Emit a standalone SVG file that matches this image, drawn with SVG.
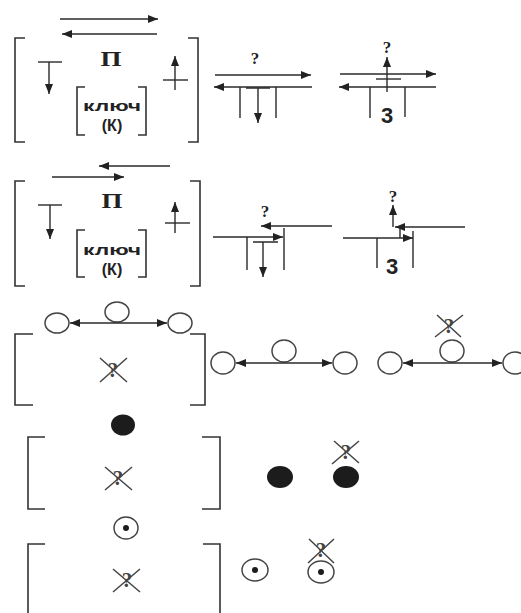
<svg xmlns="http://www.w3.org/2000/svg" width="521" height="613" viewBox="0 0 521 613">
<defs>
<marker id="ah" markerUnits="userSpaceOnUse" markerWidth="10" markerHeight="8" refX="10" refY="4" orient="auto-start-reverse" viewBox="0 0 10 8">
<path d="M0,0 L10,4 L0,8 z" fill="#222"/>
</marker>
</defs>
<style>
.ln{stroke:#2a2a2a;stroke-width:1.4;fill:none}
.ar{stroke:#2a2a2a;stroke-width:1.4;fill:none;marker-end:url(#ah)}
.da{stroke:#2a2a2a;stroke-width:1.4;fill:none;marker-start:url(#ah);marker-end:url(#ah)}
.br{stroke:#333;stroke-width:1.6;fill:none}
.pi{font-family:"Liberation Serif",serif;font-weight:bold;font-size:20px;fill:#222;text-anchor:middle}
.q{font-family:"Liberation Serif",serif;font-weight:bold;font-size:17px;fill:#222;text-anchor:middle}
.kl{font-family:"Liberation Sans",Arial,sans-serif;font-weight:bold;font-size:15px;fill:#222;text-anchor:middle}
.kk{font-family:"Liberation Sans",Arial,sans-serif;font-weight:bold;font-size:16px;fill:#222;text-anchor:middle}
.th{font-family:"Liberation Sans",Arial,sans-serif;font-weight:bold;font-size:22px;fill:#222;text-anchor:middle}
.xq{font-family:"Liberation Serif",serif;font-weight:bold;font-size:21px;fill:#444;text-anchor:middle}
.xl{stroke:#444;stroke-width:1.5;fill:none}
.oc{stroke:#444;stroke-width:1.5;fill:#fff}
.fc{fill:#1c1c1c}
</style>
<rect width="521" height="613" fill="#fff"/>

<!-- Row 1 -->
<g id="block1">
<path class="br" d="M25,38 H15 V142 H25"/>
<path class="br" d="M188,38 H198 V142 H188"/>
<text class="pi" x="111" y="66" textLength="21" lengthAdjust="spacingAndGlyphs">П</text>
<path class="ln" d="M38,62 H62"/>
<path class="ar" d="M49,62 V94"/>
<path class="ar" d="M175,90 V56"/>
<path class="ln" d="M163,80 H188"/>
<g id="key1">
<path class="br" d="M85,87 H77 V135 H85"/>
<path class="br" d="M138,87 H146 V135 H138"/>
<text class="kl" x="112" y="111" textLength="58" lengthAdjust="spacingAndGlyphs">ключ</text>
<text class="kk" x="112" y="131">(К)</text>
</g>
</g>
<g id="r1a">
<text class="q" x="255" y="64">?</text>
<path class="ln" d="M240,87 V118 M276,87 V118 M246,88 H270"/>
<path class="ar" d="M258,88 V123"/>
</g>
<g id="r1b">
<text class="q" x="387" y="53">?</text>
<path class="ar" d="M387,92 V57"/>
<path class="ln" d="M376,79 H401"/>
<path class="ln" d="M370,87 V118 M405,87 V117"/>
<text class="th" x="387" y="123">3</text>
</g>

<!-- Row 2 -->
<g id="block2">
<path class="br" d="M25,181 H15 V286 H25"/>
<path class="br" d="M190,181 H200 V286 H190"/>
<text class="pi" x="112" y="208" textLength="21" lengthAdjust="spacingAndGlyphs">П</text>
<path class="ln" d="M38,205 H62"/>
<path class="ar" d="M50,205 V239"/>
<path class="ar" d="M175,233 V202"/>
<path class="ln" d="M165,223 H190"/>
<g id="key2">
<path class="br" d="M85,230 H77 V277 H85"/>
<path class="br" d="M138,230 H146 V277 H138"/>
<text class="kl" x="112" y="255" textLength="58" lengthAdjust="spacingAndGlyphs">ключ</text>
<text class="kk" x="112" y="275">(К)</text>
</g>
</g>
<g id="r2a">
<text class="q" x="265" y="217">?</text>
<path class="ln" d="M247,237 V270 M284,228 V270 M253,242 H278"/>
<path class="ar" d="M263,242 V277"/>
</g>
<g id="r2b">
<text class="q" x="393" y="202">?</text>
<path class="ar" d="M393,227 V205"/>
<path class="ln" d="M377,238 V268 M413,231 V268 M400,228 V238"/>
<text class="th" x="392" y="274">3</text>
</g>

<!-- Row 3 -->
<g id="block3">
<path class="br" d="M33,334 H15 V405 H33"/>
<path class="br" d="M190,334 H205 V405 H190"/>
<ellipse class="oc" cx="57" cy="323" rx="12" ry="10"/>
<ellipse class="oc" cx="117" cy="312" rx="12" ry="10"/>
<ellipse class="oc" cx="180" cy="323" rx="12" ry="10"/>
<g id="xq1"><text class="xq" x="113" y="377">?</text><path class="xl" d="M100,358 L127,382 M100,382 L127,358"/></g>
</g>
<g id="r3a">
<ellipse class="oc" cx="223" cy="363" rx="12" ry="11"/>
<ellipse class="oc" cx="284" cy="351" rx="12" ry="11"/>
<ellipse class="oc" cx="345" cy="363" rx="12" ry="11"/>
</g>
<g id="r3b">
<ellipse class="oc" cx="390" cy="363" rx="12" ry="11"/>
<ellipse class="oc" cx="452" cy="351" rx="12" ry="11"/>
<ellipse class="oc" cx="515" cy="363" rx="12" ry="11"/>
<g id="xq2"><text class="xq" x="449" y="333">?</text><path class="xl" d="M435,337 L463,315 M437,315 L461,337"/></g>
</g>

<!-- Row 4 -->
<g id="block4">
<ellipse class="fc" cx="123" cy="425" rx="12" ry="10.5"/>
<path class="br" d="M45,437 H28 V509 H45"/>
<path class="br" d="M202,437 H220 V509 H202"/>
<g id="xq3"><text class="xq" x="118" y="485">?</text><path class="xl" d="M105,467 L132,490 M105,490 L132,467"/></g>
</g>
<g id="r4">
<ellipse class="fc" cx="280" cy="477" rx="13" ry="11"/>
<ellipse class="fc" cx="346" cy="477" rx="13" ry="11"/>
<g id="xq4"><text class="xq" x="346" y="459">?</text><path class="xl" d="M332,464 L359,441 M334,441 L359,463"/></g>
</g>

<!-- Row 5 -->
<g id="block5">
<ellipse class="oc" cx="126" cy="528" rx="12" ry="11"/>
<circle class="fc" cx="126" cy="528" r="3"/>
<path class="br" d="M45,544 H28 V613"/>
<path class="br" d="M203,544 H220 V613"/>
<g id="xq5"><text class="xq" x="127" y="587">?</text><path class="xl" d="M113,569 L140,592 M113,592 L140,569"/></g>
</g>
<g id="r5">
<ellipse class="oc" cx="255" cy="570" rx="13" ry="11"/>
<circle class="fc" cx="255" cy="570" r="3"/>
<ellipse class="oc" cx="321" cy="572" rx="13" ry="11"/>
<circle class="fc" cx="321" cy="572" r="3"/>
<g id="xq6"><text class="xq" x="321" y="557">?</text><path class="xl" d="M308,563 L334,539 M309,539 L334,563"/></g>
</g>

<!-- connectors -->
<g id="connectors">
<path class="ar" d="M60,19 H158"/>
<path class="ar" d="M157,34 H62"/>
<path class="ar" d="M215,75 H311"/>
<path class="ar" d="M312,87 H214"/>
<path class="ar" d="M340,74 H436"/>
<path class="ar" d="M436,87 H339"/>
<path class="ar" d="M170,166 H99"/>
<path class="ar" d="M52,177 H124"/>
<path class="ar" d="M332,226 H261"/>
<path class="ar" d="M213,237 H283"/>
<path class="ar" d="M465,227 H395"/>
<path class="ar" d="M343,238 H413"/>
<path class="da" d="M70,323 H167"/>
<path class="da" d="M236,363 H332"/>
<path class="da" d="M403,363 H502"/>
</g>
</svg>
